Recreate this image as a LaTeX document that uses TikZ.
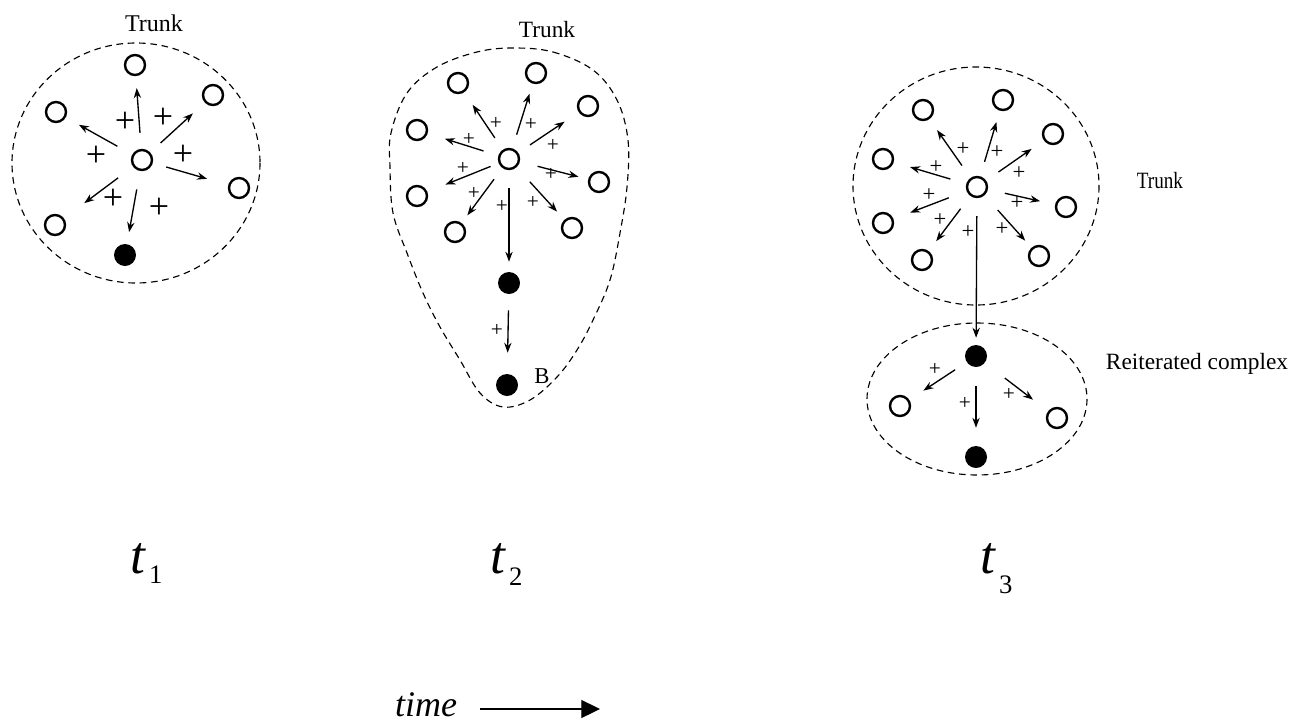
\documentclass[tikz,border=0pt]{standalone}
\usepackage{fontspec}
\setmainfont{Liberation Serif}
\usetikzlibrary{arrows.meta}
\newcommand\tlab[2]{{\fontsize{40}{40}\selectfont\itshape t}\kern3pt\raisebox{-#2}{\fontsize{20}{20}\selectfont #1}}
\tikzset{
  oc/.style={circle,draw,line width=1.8pt,minimum size=15pt,inner sep=0pt},
  fc/.style={circle,fill=black,minimum size=16.5pt,inner sep=0pt},
  arr/.style={line width=1pt,-{Stealth[length=7.5pt,width=5.5pt]}},
  dsh/.style={line width=0.85pt,dash pattern=on 5pt off 3.5pt},
  lab/.style={inner sep=0pt,anchor=base},
  plA/.style={inner sep=0pt,font=\fontsize{27}{27}\selectfont},
  plB/.style={inner sep=0pt,font=\fontsize{16}{16}\selectfont},
  plC/.style={inner sep=0pt,font=\fontsize{17}{17}\selectfont},
}
\begin{document}
\begin{tikzpicture}[x=0.75pt,y=-0.75pt]
\fill[white] (0,0) rectangle (1302,725);
\useasboundingbox (0,0) rectangle (1302,725);

% ---------- panel 1 ----------
\draw[dsh] (136,163) ellipse [x radius=124, y radius=120];
\node[lab,font=\fontsize{18}{18}\selectfont] (tr1) at (154,31) {Trunk};
\node[oc] (c1) at (142,160) {};
\node[oc] (a1) at (135,65) {};
\node[oc] (a2) at (213,95) {};
\node[oc] (a3) at (56,112) {};
\node[oc] (a4) at (239,188) {};
\node[oc] (a5) at (55,225) {};
\node[fc] (f1) at (125,255) {};
\draw[arr,shorten <=12pt,shorten >=9pt] (c1) -- (a1);
\draw[arr,shorten <=10.5pt,shorten >=12pt] (c1) -- (a2);
\draw[arr,shorten <=12.75pt,shorten >=11.25pt] (c1) -- (a3);
\draw[arr,shorten <=10.5pt,shorten >=16.5pt] (c1) -- (a4);
\draw[arr,shorten <=14pt,shorten >=19pt] (c1) -- (a5);
\draw[arr,shorten <=14pt,shorten >=9pt] (c1) -- (f1);
\node[plA] (p11) at (125,122) {+};
\node[plA] (p12) at (163,118) {+};
\node[plA] (p13) at (96,156) {+};
\node[plA] (p14) at (183,155) {+};
\node[plA] (p15) at (113,199) {+};
\node[plA] (p16) at (159,208) {+};

% ---------- panel 2 ----------
\draw[dsh] plot[smooth cycle,tension=0.6] coordinates {(513,48) (553,52) (593,70) (617,100) (628,140) (627,187) (620,233) (610,280) (593,320) (577,350) (557,377) (530,400) (503,407) (480,393) (460,360) (440,327) (423,293) (407,253) (393,213) (390,167) (391,133) (407,93) (437,67) (477,52)};
\node[lab,font=\fontsize{17.5}{17.5}\selectfont] (tr2) at (547,37) {Trunk};
\node[oc] (c2) at (509,159) {};
\node[oc] (b1) at (536,73) {};
\node[oc] (b2) at (458,83) {};
\node[oc] (b3) at (588,106) {};
\node[oc] (b4) at (417,130) {};
\node[oc] (b5) at (599,182) {};
\node[oc] (b6) at (417,196) {};
\node[oc] (b7) at (455,232) {};
\node[oc] (b8) at (572,228) {};
\node[fc] (f2) at (509,283) {};
\node[fc] (fB) at (507,385) {};
\node[lab,font=\fontsize{17}{17}\selectfont] (Bl) at (542,383) {B};
\draw[arr,shorten <=10.7pt,shorten >=7.9pt] (c2) -- (b1);
\draw[arr,shorten <=10.6pt,shorten >=11.3pt] (c2) -- (b2);
\draw[arr,shorten <=10.5pt,shorten >=12.75pt] (c2) -- (b3);
\draw[arr,shorten <=11.6pt,shorten >=13.5pt] (c2) -- (b4);
\draw[arr,shorten <=13.7pt,shorten >=7.5pt] (c2) -- (b5);
\draw[arr,shorten <=6.5pt,shorten >=14.6pt] (c2) -- (b6);
\draw[arr,shorten <=10.5pt,shorten >=7.2pt] (c2) -- (b7);
\draw[arr,shorten <=14.7pt,shorten >=8.25pt] (c2) -- (b8);
\draw[arr,shorten <=13.5pt,shorten >=7.5pt] (c2) -- (f2);
\draw[arr,shorten <=12pt,shorten >=15.75pt] (f2) -- (fB);
\node[plB] (p21) at (496,123) {+};
\node[plB] (p22) at (531,124) {+};
\node[plB] (p23) at (469,139) {+};
\node[plB] (p24) at (553,145) {+};
\node[plB] (p25) at (463,168) {+};
\node[plB] (p26) at (551,174) {+};
\node[plB] (p27) at (474,193) {+};
\node[plB] (p28) at (502,206) {+};
\node[plB] (p29) at (533,202) {+};
\node[plB] (p2a) at (497,330) {+};

% ---------- panel 3 ----------
\draw[dsh] (976,186) ellipse [x radius=123, y radius=119];
\draw[dsh] (977,399) ellipse [x radius=110, y radius=76];
\node[lab,font=\fontsize{17.5}{17.5}\selectfont] (tr3) at (1160,188) {\scalebox{0.82}[1]{Trunk}};
\node[lab,font=\fontsize{17.5}{17.5}\selectfont] (rc) at (1197,369) {Reiterated complex};
\node[oc] (c3) at (977,187) {};
\node[oc] (d1) at (1003,100) {};
\node[oc] (d2) at (923,110) {};
\node[oc] (d3) at (883,159) {};
\node[oc] (d4) at (883,223) {};
\node[oc] (d5) at (922,260) {};
\node[oc] (d6) at (1053,134) {};
\node[oc] (d7) at (1066,207) {};
\node[oc] (d8) at (1039,256) {};
\node[fc] (g1) at (976,356) {};
\node[oc] (e1) at (900,406) {};
\node[oc] (e2) at (1057,418) {};
\node[fc] (g2) at (976,457) {};
\draw[arr,shorten <=11.25pt,shorten >=8.85pt] (c3) -- (d1);
\draw[arr,shorten <=11.25pt,shorten >=10pt] (c3) -- (d2);
\draw[arr,shorten <=12.4pt,shorten >=12.75pt] (c3) -- (d3);
\draw[arr,shorten <=14.25pt,shorten >=13.5pt] (c3) -- (d4);
\draw[arr,shorten <=12pt,shorten >=9.3pt] (c3) -- (d5);
\draw[arr,shorten <=11.25pt,shorten >=11.1pt] (c3) -- (d6);
\draw[arr,shorten <=13pt,shorten >=11.5pt] (c3) -- (d7);
\draw[arr,shorten <=14.85pt,shorten >=7.1pt] (c3) -- (d8);
\draw[arr,shorten <=13.5pt,shorten >=5.25pt] (c3) -- (g1);
\draw[arr,shorten <=10.3pt,shorten >=12.6pt] (g1) -- (e1);
\draw[arr,shorten <=18.75pt,shorten >=14.25pt] (g1) -- (e2);
\draw[arr,shorten <=14.25pt,shorten >=13.5pt] (g1) -- (g2);
\node[plC] (p31) at (963,149) {+};
\node[plC] (p32) at (997,152) {+};
\node[plC] (p33) at (936,167) {+};
\node[plC] (p34) at (1019,173) {+};
\node[plC] (p35) at (929,195) {+};
\node[plC] (p36) at (1017,203) {+};
\node[plC] (p37) at (940,220) {+};
\node[plC] (p38) at (968,232) {+};
\node[plC] (p39) at (1002,229) {+};
\node[plB] (p41) at (935,369) {+};
\node[plB] (p42) at (1009,394) {+};
\node[plB] (p43) at (965,403) {+};

% ---------- time labels ----------
\node[inner sep=0pt,anchor=base west] (t1) at (130,573) {\tlab{1}{7.5pt}};
\node[inner sep=0pt,anchor=base west] (t2) at (490,573) {\tlab{2}{9pt}};
\node[inner sep=0pt,anchor=base west] (t3) at (980,573) {\tlab{3}{15pt}};

\node[lab,font=\fontsize{27}{27}\selectfont\itshape] (time) at (426,716) {time};
\coordinate (tend) at (600,709);
\coordinate (tstart) at (480,709);
\draw[line width=0.8pt,-{Triangle[length=14pt,width=13.5pt]}] (tstart) -- (tend);
\end{tikzpicture}
\end{document}
